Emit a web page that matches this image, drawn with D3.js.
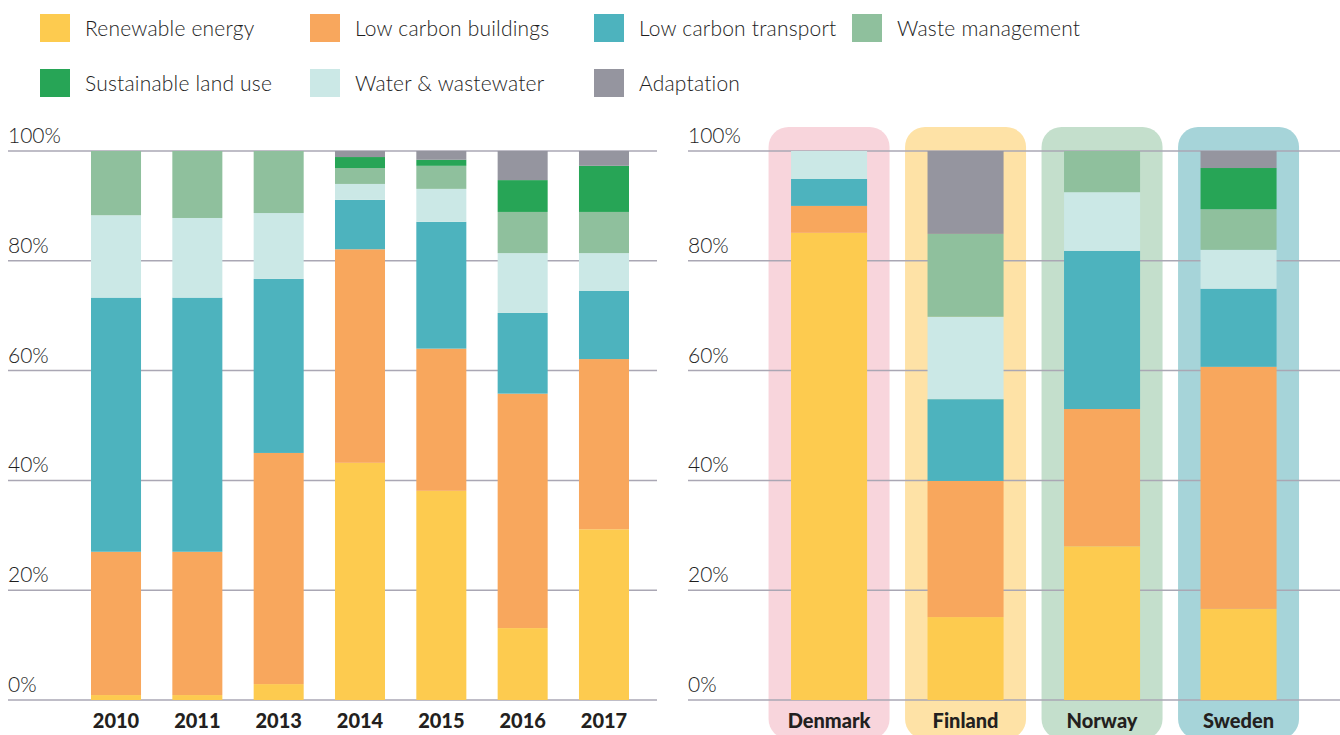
<!DOCTYPE html>
<html>
<head>
<meta charset="utf-8">
<script src="https://cdn.jsdelivr.net/npm/d3@7"></script>
<style>
  body { margin: 0; background: #fff; }
  svg { display: block; }
  text { font-family: Lato, "Open Sans", sans-serif; }
</style>
</head>
<body>
<script>
// categories
var keys = ['renewable', 'buildings', 'transport', 'water', 'waste', 'land', 'adaptation'];
var names = {
    renewable: 'Renewable energy', buildings: 'Low carbon buildings', transport: 'Low carbon transport',
    waste: 'Waste management', land: 'Sustainable land use', water: 'Water & wastewater', adaptation: 'Adaptation'
};
var colors = {
    renewable: '#fdcb4f', buildings: '#f8a75d', transport: '#4db3be', waste: '#8fc09d',
    land: '#27a556', water: '#cbe8e6', adaptation: '#95959f'
};
var legendOrder = ['renewable', 'buildings', 'transport', 'waste', 'land', 'water', 'adaptation'];

// left chart: share by year (%)
var years = ['2010', '2011', '2013', '2014', '2015', '2016', '2017'];
var renewableY  = [0.9, 0.9, 2.9, 43.2, 38.1, 13.1, 31.1];
var buildingsY  = [26.1, 26.1, 42.1, 38.9, 25.9, 42.7, 31.0];
var transportY  = [46.3, 46.3, 31.7, 9.0, 23.1, 14.7, 12.4];
var waterY      = [15.0, 14.5, 12.0, 2.9, 6.0, 10.9, 6.9];
var wasteY      = [11.7, 12.2, 11.3, 2.9, 4.2, 7.5, 7.5];
var landY       = [0, 0, 0, 2.0, 1.1, 5.8, 8.4];
var adaptationY = [0, 0, 0, 1.1, 1.6, 5.3, 2.7];

// right chart: share by country (%)
var countries = ['Denmark', 'Finland', 'Norway', 'Sweden'];
var countryBg = ['#f8d5dc', '#fee2a6', '#c4dfcc', '#a6d4d9'];
var renewableC  = [85.1, 15.1, 28.0, 16.6];
var buildingsC  = [4.9, 24.8, 25.0, 44.1];
var transportC  = [4.9, 14.9, 28.8, 14.2];
var waterC      = [5.1, 15.0, 10.7, 7.1];
var wasteC      = [0, 15.1, 7.5, 7.4];
var landC       = [0, 0, 0, 7.5];
var adaptationC = [0, 15.1, 0, 3.1];

var yTicks = [0, 20, 40, 60, 80, 100];

function rows(cats, series) {
    return cats.map(function(c, i) {
        var r = {cat: c};
        keys.forEach(function(k) { r[k] = series[k][i]; });
        return r;
    });
}
var yearData = rows(years, {renewable: renewableY, buildings: buildingsY, transport: transportY,
    water: waterY, waste: wasteY, land: landY, adaptation: adaptationY});
var countryData = rows(countries, {renewable: renewableC, buildings: buildingsC, transport: transportC,
    water: waterC, waste: wasteC, land: landC, adaptation: adaptationC});

var width = 1340, height = 735;
var svg = d3.select('body').append('svg').attr('width', width).attr('height', height);

var y = d3.scaleLinear().domain([0, 100]).range([700, 151]);
var stack = d3.stack().keys(keys);

// legend
var legend = svg.append('g');
var legendPos = [[40, 14], [310, 14], [594, 14], [852, 14], [40, 69], [310, 69], [594, 69]];
legendOrder.forEach(function(k, i) {
    var g = legend.append('g').attr('transform', 'translate(' + legendPos[i][0] + ',' + legendPos[i][1] + ')');
    g.append('rect').attr('width', 30).attr('height', 28).attr('fill', colors[k]);
    g.append('text').attr('x', 45).attr('y', 22).attr('font-size', 21).attr('font-weight', 300)
        .attr('letter-spacing', 0.2).attr('fill', '#1e1e1e').text(names[k]);
});

function drawChart(data, x, gridX0, gridX1, labelX, bgColors) {
    var g = svg.append('g');

    // rounded backgrounds behind bars
    if (bgColors) {
        var bgW = 121;
        g.selectAll('.bg').data(data).enter().append('rect')
            .attr('x', function(d) { return x(d.cat) + x.bandwidth() / 2 - bgW / 2; })
            .attr('y', 127).attr('width', bgW).attr('height', 612).attr('rx', 20)
            .attr('fill', function(d, i) { return bgColors[i]; });
    }

    // gridlines + tick labels
    g.selectAll('.grid').data(yTicks).enter().append('line')
        .attr('x1', gridX0).attr('x2', gridX1)
        .attr('y1', function(d) { return y(d); }).attr('y2', function(d) { return y(d); })
        .attr('stroke', '#aaa7b4').attr('stroke-width', 1.5);
    g.selectAll('.ylab').data(yTicks).enter().append('text')
        .attr('x', labelX).attr('y', function(d) { return y(d) - 8; })
        .attr('font-size', 21).attr('font-weight', 300).attr('fill', '#1e1e1e')
        .text(function(d) { return d + '%'; });

    // stacked bars
    g.selectAll('.layer').data(stack(data)).enter().append('g')
        .attr('fill', function(d) { return colors[d.key]; })
        .selectAll('rect').data(function(d) { return d; }).enter().append('rect')
        .attr('x', function(d) { return x(d.data.cat); })
        .attr('width', x.bandwidth())
        .attr('y', function(d) { return y(d[1]); })
        .attr('height', function(d) { return y(d[0]) - y(d[1]); });

    // category labels
    g.selectAll('.xlab').data(data).enter().append('text')
        .attr('x', function(d) { return x(d.cat) + x.bandwidth() / 2; })
        .attr('y', 728).attr('text-anchor', 'middle')
        .attr('font-size', 20).attr('font-weight', 900).attr('fill', '#231f20')
        .text(function(d) { return d.cat; });
}

var xLeft = d3.scaleBand().domain(years).range([75.35, 644.65]).paddingInner(0.385).paddingOuter(0.1925);
var xRight = d3.scaleBand().domain(countries).range([760.8, 1306.8]).paddingInner(0.443).paddingOuter(0.2215);

drawChart(yearData, xLeft, 8, 657, 8, null);
drawChart(countryData, xRight, 688, 1340, 688, countryBg);
</script>
</body>
</html>
